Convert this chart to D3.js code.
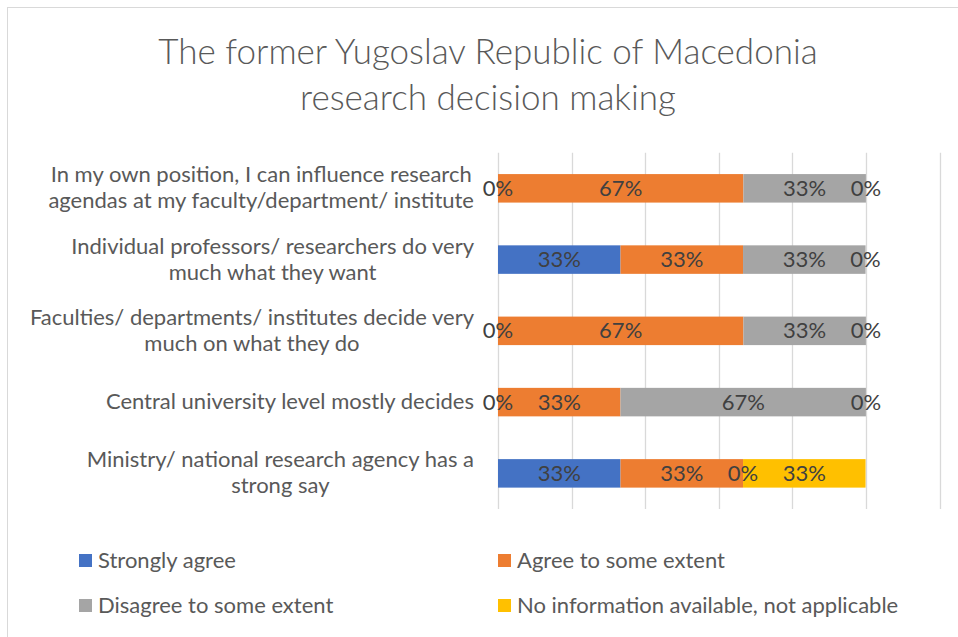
<!DOCTYPE html>
<html>
<head>
<meta charset="utf-8">
<script src="https://cdn.jsdelivr.net/npm/d3@7"></script>
<style>
  body { margin: 0; background: #fff; }
  svg { display: block; font-family: Lato, "Open Sans", sans-serif; }
</style>
</head>
<body>
<svg id="chart" width="958" height="637"></svg>
<script>
// categories, top to bottom
var categories = [
  "In my own position, I can influence research\nagendas at my faculty/department/ institute",
  "Individual professors/ researchers do very\nmuch what they want",
  "Faculties/ departments/ institutes decide very\nmuch on what they do",
  "Central university level mostly decides",
  "Ministry/ national research agency has a\nstrong say"
];
var seriesNames = ["Strongly agree", "Agree to some extent", "Disagree to some extent", "No information available, not applicable"];
var stronglyAgree = [0, 0.333, 0, 0, 0.333];
var agreeSome     = [0.667, 0.333, 0.667, 0.333, 0.333];
var disagreeSome  = [0.333, 0.333, 0.333, 0.667, 0];
var noInfo        = [0, 0, 0, 0, 0.333];
var xTicks = [0, 0.2, 0.4, 0.6, 0.8, 1, 1.2];
var colors = ["#4472C4", "#ED7D31", "#A5A5A5", "#FFC000"];

var svg = d3.select("#chart");

// chart border
svg.append("rect")
  .attr("x", 7.5).attr("y", 7.5)
  .attr("width", 960).attr("height", 640)
  .attr("fill", "none").attr("stroke", "#d9d9d9");

// title
svg.append("text")
  .attr("x", 488).attr("y", 64)
  .attr("text-anchor", "middle")
  .attr("fill", "#595959")
  .attr("font-size", 35).attr("font-weight", 300)
  .selectAll("tspan")
  .data(["The former Yugoslav Republic of Macedonia", "research decision making"])
  .enter().append("tspan")
  .attr("x", 488)
  .attr("dy", (d, i) => i ? 46 : 0)
  .text(d => d);

var x = d3.scaleLinear().domain([0, 1.2]).range([498, 939.5]);
var y = d3.scaleBand().domain(categories).range([152.7, 509]).paddingInner(0.6).paddingOuter(0.3);

// gridlines
svg.append("g").selectAll("line")
  .data(xTicks).enter().append("line")
  .attr("x1", d => Math.round(x(d)) + 0.5).attr("x2", d => Math.round(x(d)) + 0.5)
  .attr("y1", 152.7).attr("y2", 509)
  .attr("stroke", "#d9d9d9").attr("stroke-width", 1.3);

// stacked data
var rows = categories.map((c, i) => ({
  cat: c,
  s0: stronglyAgree[i], s1: agreeSome[i], s2: disagreeSome[i], s3: noInfo[i]
}));
var stack = d3.stack().keys(["s0", "s1", "s2", "s3"])(rows);

svg.append("g").selectAll("g")
  .data(stack).enter().append("g")
  .attr("fill", (d, i) => colors[i])
  .selectAll("rect")
  .data(d => d).enter().append("rect")
  .attr("x", d => x(d[0]))
  .attr("width", d => x(d[1]) - x(d[0]))
  .attr("y", d => y(d.data.cat))
  .attr("height", y.bandwidth());

// data labels, drawn after all bars so zero labels stay on top
var fmt = d3.format(".0%");
svg.append("g").selectAll("g")
  .data(stack).enter().append("g")
  .selectAll("text")
  .data(d => d).enter().append("text")
  .attr("x", d => (x(d[0]) + x(d[1])) / 2)
  .attr("y", d => y(d.data.cat) + y.bandwidth() / 2 + 7.5)
  .attr("text-anchor", "middle")
  .attr("fill", "#404040")
  .attr("font-size", 22)
  .text(d => fmt(d[1] - d[0]));

// category labels: block right-aligned, lines centred in the block
var lineH = 26;
categories.forEach(function(c) {
  var lines = c.split("\n");
  var g = svg.append("g");
  var texts = g.selectAll("text").data(lines).enter().append("text")
    .attr("font-size", 22).attr("fill", "#595959")
    .attr("text-anchor", "middle")
    .attr("y", (d, i) => y(c) + y.bandwidth() / 2 + 7 + (i - (lines.length - 1) / 2) * lineH)
    .text(d => d);
  var maxW = d3.max(texts.nodes(), n => n.getComputedTextLength());
  texts.attr("x", 474 - maxW / 2);
});

// legend
var legendPos = [[79, 554], [498, 554], [79, 599], [498, 599]];
var legend = svg.append("g").selectAll("g")
  .data(seriesNames).enter().append("g")
  .attr("transform", (d, i) => `translate(${legendPos[i][0]},${legendPos[i][1]})`);
legend.append("rect")
  .attr("width", 13).attr("height", 13)
  .attr("fill", (d, i) => colors[i]);
legend.append("text")
  .attr("x", 19).attr("y", 14)
  .attr("font-size", 22).attr("fill", "#595959")
  .text(d => d);
</script>
</body>
</html>
